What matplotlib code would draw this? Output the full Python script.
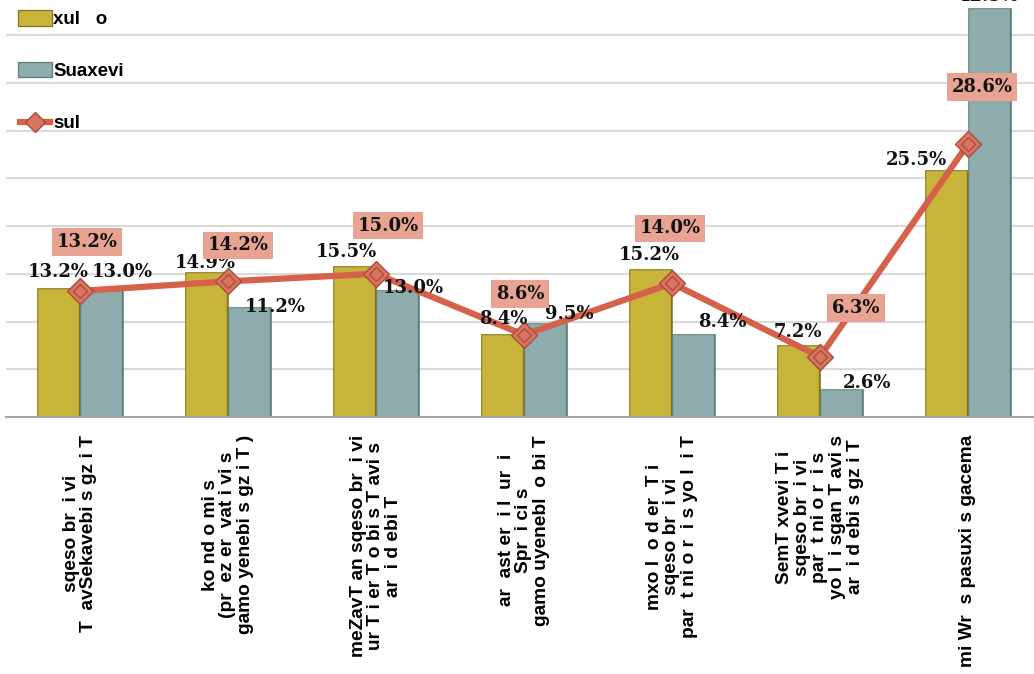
import numpy as np
import matplotlib
matplotlib.use("Agg")
import matplotlib.pyplot as plt
import matplotlib.patheffects as pe
from matplotlib.patches import Patch
from matplotlib.lines import Line2D

# --- data -------------------------------------------------------------
categories = [
    "sqeso br  i vi\nT  avSekavebi s gz i T",
    "ko nd o mi s\n(pr  ez er  vat i vi s\ngamo yenebi s gz i T )",
    "meZavT an sqeso br  i vi\nur T i er T o bi s T avi s\nar  i d ebi T",
    "ar  ast er  i l  ur  i\nSpr  i ci s\ngamo uyenebl  o bi T",
    "mxo l  o d er  T i\nsqeso br  i vi\npar  t ni o r  i s yo l  i T",
    "SemT xvevi T i\nsqeso br  i vi\npar  t ni o r  i s\nyo l  i sgan T avi s\nar  i d ebi s gz i T",
    "mi Wr  s pasuxi s gacema",
]
series_names = ["xul   o", "Suaxevi", "sul"]
values_a = [13.2, 14.9, 15.5, 8.4, 15.2, 7.2, 25.5]
values_b = [13.0, 11.2, 13.0, 9.5, 8.4, 2.6, 42.5]
values_total = [13.2, 14.2, 15.0, 8.6, 14.0, 6.3, 28.6]

# --- label placement (pixel offsets from the mark) ---------------------
off_a = [(0, 19), (-1, 12), (-8, 17), (1, 18), (-1, 17), (-1, 16), (-30, 13)]
off_b = [(21, 21), (26, 3), (16, 5), (24, 12), (29, 15), (26, 9), (-2, 15)]
off_total = [(7, 49), (10, 36), (12, 48), (-4, 41), (-2, 55), (36, 49), (14, 57)]

# --- style ------------------------------------------------------------
YELLOW = "#C8B43A"
YELLOW_EDGE = "#857516"
TEAL = "#8FACAC"
TEAL_EDGE = "#5F7E7E"
LINE = "#D5614A"
MARK_FACE = "#D9745F"
MARK_EDGE = "#A94A3A"
BOX = "#E8A393"
GRID = "#DADADA"

W, H = 1034, 674
fig = plt.figure(figsize=(W / 100, H / 100), dpi=100)
ax = fig.add_axes([6 / W, (H - 417) / H, 1036 / W, 417 / H])

x = np.arange(len(categories))
shift = 0.145
bw = 0.255


def double_border(face):
    # soft shadow, then a face-coloured stroke over the thick dark edge,
    # leaving a thin dark line on each side of the outline
    return [pe.SimplePatchShadow(offset=(2, -2), shadow_rgbFace="#9a9a9a", alpha=0.4),
            pe.Normal(),
            pe.Stroke(linewidth=2.6, foreground=face)]


bars_a = ax.bar(x - shift, values_a, bw, color=YELLOW, edgecolor=YELLOW_EDGE,
                linewidth=4.8, zorder=3)
bars_b = ax.bar(x + shift, values_b, bw, color=TEAL, edgecolor=TEAL_EDGE,
                linewidth=4.8, zorder=3)
for b in bars_a:
    b.set_path_effects(double_border(YELLOW))
for b in bars_b:
    b.set_path_effects(double_border(TEAL))

ax.plot(x, values_total, color=LINE, linewidth=4.5, solid_capstyle="round",
        marker="D", markersize=13, markerfacecolor=MARK_FACE,
        markeredgecolor=MARK_EDGE, markeredgewidth=1.0, zorder=5)
ax.plot(x, values_total, linestyle="none", marker="D", markersize=7,
        markerfacecolor="none", markeredgecolor=MARK_EDGE, markeredgewidth=0.9,
        zorder=6)

val_font = dict(family="DejaVu Serif", fontweight="bold", fontsize=13, color="#111111")

for xi, v, (dx, dy) in zip(x - shift, values_a, off_a):
    ax.annotate(f"{v:.1f}%", (xi, v), xytext=(dx, dy), textcoords="offset pixels",
                ha="center", va="center", zorder=7, **val_font)
for xi, v, (dx, dy) in zip(x + shift, values_b, off_b):
    ax.annotate(f"{v:.1f}%", (xi, v), xytext=(dx, dy), textcoords="offset pixels",
                ha="center", va="center", zorder=7, **val_font)
for xi, v, (dx, dy) in zip(x, values_total, off_total):
    ax.annotate(f"{v:.1f}%", (xi, v), xytext=(dx, dy), textcoords="offset pixels",
                ha="center", va="center", zorder=8,
                bbox=dict(boxstyle="square,pad=0.26", facecolor=BOX, edgecolor="none"),
                **val_font)

# axes, grid
ax.set_xlim(-0.5, len(categories) - 0.5)
ax.set_ylim(0, 417 / 9.55)
ax.set_yticks(np.arange(5, 45, 5))
ax.yaxis.grid(True, color=GRID, linewidth=1.5, zorder=0)
ax.set_axisbelow(True)
ax.tick_params(axis="y", left=False, labelleft=False)
for s in ["left", "right", "top"]:
    ax.spines[s].set_visible(False)
ax.spines["bottom"].set_color("#A6A6A6")
ax.spines["bottom"].set_linewidth(1.5)
ax.spines["bottom"].set_zorder(4)

ax.set_xticks(x)
ax.set_xticklabels(categories, rotation=90, ha="center", va="top",
                   multialignment="center", family="Liberation Sans",
                   fontweight="bold", fontsize=13.8, linespacing=1.05)
ax.tick_params(axis="x", length=0, pad=13)

# legend
handles = [
    Patch(facecolor=YELLOW, edgecolor=YELLOW_EDGE, linewidth=3.8,
          path_effects=[pe.Normal(), pe.Stroke(linewidth=2.0, foreground=YELLOW)]),
    Patch(facecolor=TEAL, edgecolor=TEAL_EDGE, linewidth=3.8,
          path_effects=[pe.Normal(), pe.Stroke(linewidth=2.0, foreground=TEAL)]),
    Line2D([], [], color=LINE, linewidth=4.5, marker="D", markersize=10,
           markerfacecolor=MARK_FACE, markeredgecolor=MARK_EDGE),
]
fig.legend(handles, series_names, loc="upper left", bbox_to_anchor=(12 / W, 1 - 4 / H),
           frameon=False, prop=dict(family="Liberation Sans", weight="bold", size=13.5),
           handlelength=1.6, handleheight=0.55, handletextpad=0.2,
           labelspacing=1.85, borderaxespad=0)

fig.savefig("out.png", dpi=100)
